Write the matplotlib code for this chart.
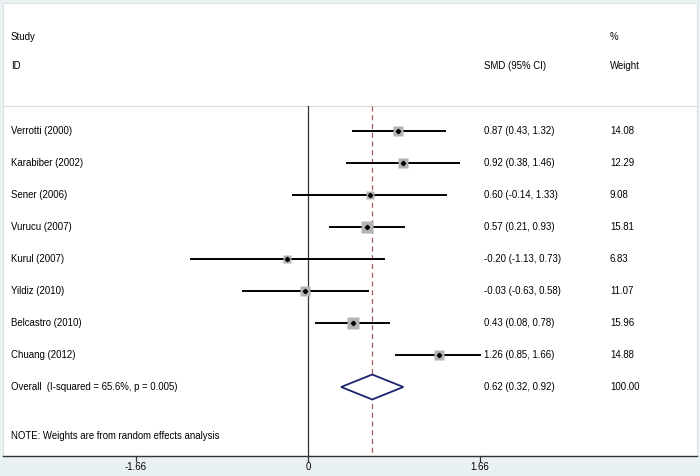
import numpy as np
import matplotlib.pyplot as plt
from matplotlib.patches import Polygon, Rectangle

plt.rcParams['font.family'] = ['Liberation Sans', 'DejaVu Sans']

# study level data
studies = ['Verrotti (2000)', 'Karabiber (2002)', 'Sener (2006)', 'Vurucu (2007)',
           'Kurul (2007)', 'Yildiz (2010)', 'Belcastro (2010)', 'Chuang (2012)']
smd = [0.87, 0.92, 0.60, 0.57, -0.20, -0.03, 0.43, 1.26]
lo = [0.43, 0.38, -0.14, 0.21, -1.13, -0.63, 0.08, 0.85]
hi = [1.32, 1.46, 1.33, 0.93, 0.73, 0.58, 0.78, 1.66]
weight = [14.08, 12.29, 9.08, 15.81, 6.83, 11.07, 15.96, 14.88]

overall_label = 'Overall  (I-squared = 65.6%, p = 0.005)'
overall = [0.62, 0.32, 0.92]
overall_weight = 100.00
note = 'NOTE: Weights are from random effects analysis'
xticks = [-1.66, 0, 1.66]

W, H = 700, 476
fig = plt.figure(figsize=(7.0, 4.76), dpi=100)
fig.patch.set_facecolor('#eaf1f2')
ax = fig.add_axes([0, 0, 1, 1])
ax.set_axis_off()

# pixel mapping: x0 pixel of zero, px per unit; row 0 at y=131 px, 32 px per row
x0, sx = 308, 103.6
y0, sy = 131, 32
ax.set_xlim(-x0 / sx, (W - x0) / sx)
ax.set_ylim((H - y0) / sy, -y0 / sy)

def row_of(ypx):
    return (ypx - y0) / sy

fs = 6.9
left = (3 - x0) / sx
right = (W - 3 - x0) / sx
# white panel
ax.add_patch(Rectangle((left, row_of(3)), right - left, row_of(455.5) - row_of(3),
                       facecolor='white', edgecolor='#dde3e4', lw=0.8, zorder=0))
ax.plot([left, right], [row_of(106)] * 2, color='#d6dadb', lw=0.8, zorder=1)

# header
tx_study = (11 - x0) / sx
tx_est = (484 - x0) / sx
tx_w = (610 - x0) / sx
ax.text(tx_study, row_of(37), 'Study', fontsize=fs, va='center')
ax.text(tx_study, row_of(66), 'ID', fontsize=fs, va='center')
ax.text(tx_est, row_of(66), 'SMD (95% CI)', fontsize=fs, va='center')
ax.text(tx_w, row_of(37), '%', fontsize=fs, va='center')
ax.text(tx_w, row_of(66), 'Weight', fontsize=fs, va='center')

# reference lines
ax.plot([0, 0], [row_of(106), row_of(455.5)], color='#333333', lw=0.9, zorder=2)
ax.plot([overall[0]] * 2, [row_of(106), row_of(455.5)], color='#a85a5a', lw=0.9,
        ls=(0, (4, 3)), zorder=2)

rows = np.arange(len(studies))
for r, name, m, l, h, w in zip(rows, studies, smd, lo, hi, weight):
    ax.plot([l, h], [r, r], color='black', lw=1.4, zorder=3)
    ax.plot(m, r, marker='s', ms=2.0 * np.sqrt(w), color='#b3b3b3', mec='none', zorder=4)
    ax.plot(m, r, marker='D', ms=2.2, color='black', zorder=5)
    ax.text(tx_study, r, name, fontsize=fs, va='center')
    ax.text(tx_est, r, '%.2f (%.2f, %.2f)' % (m, l, h), fontsize=fs, va='center')
    ax.text(tx_w, r, '%.2f' % w, fontsize=fs, va='center')

# overall diamond
ro = len(studies)
dh = 0.39
diamond = Polygon([[overall[1], ro], [overall[0], ro - dh], [overall[2], ro], [overall[0], ro + dh]],
                  closed=True, facecolor='white', edgecolor='#1c2470', lw=1.3, zorder=4)
ax.add_patch(diamond)
ax.text(tx_study, ro, overall_label, fontsize=fs, va='center')
ax.text(tx_est, ro, '%.2f (%.2f, %.2f)' % tuple(overall), fontsize=fs, va='center')
ax.text(tx_w, ro, '%.2f' % overall_weight, fontsize=fs, va='center')

ax.text(tx_study, row_of(436), note, fontsize=fs, va='center')

# x axis
ax.plot([left, right], [row_of(455.5)] * 2, color='#333333', lw=1.0, zorder=3)
for t in xticks:
    ax.plot([t, t], [row_of(455.5), row_of(461)], color='#333333', lw=0.9)
    ax.text(t, row_of(467.5), ('%.2f' % t) if t != 0 else '0', fontsize=fs, ha='center', va='center')

fig.savefig('out.png', dpi=100, facecolor=fig.get_facecolor())
